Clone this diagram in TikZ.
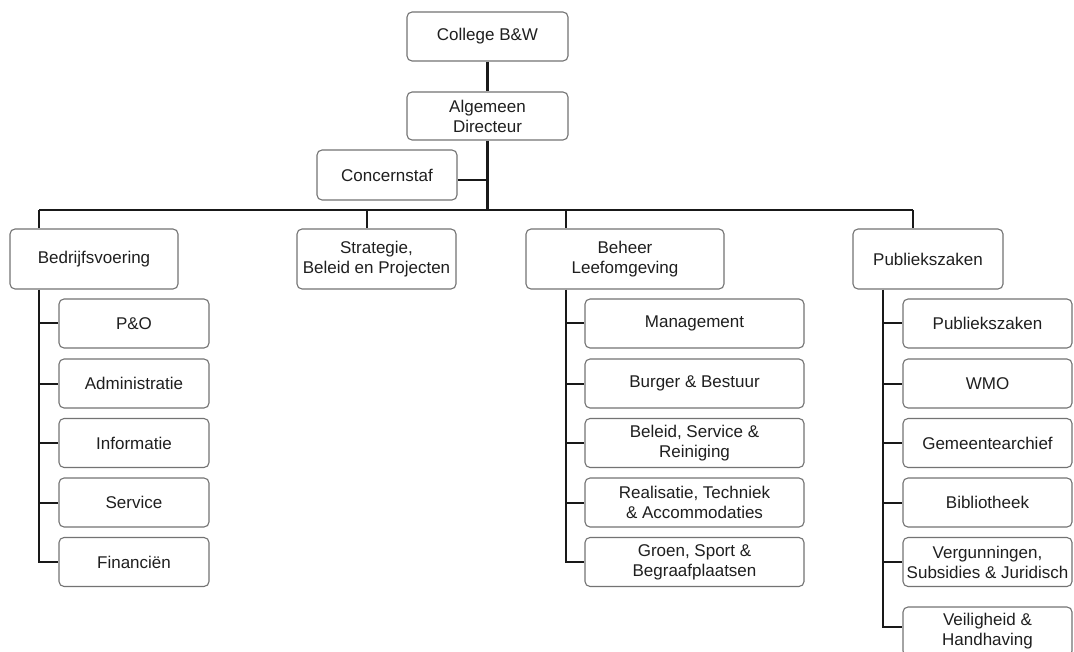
\documentclass[tikz,border=0pt]{standalone}
\usepackage{fontspec}
\setmainfont{Liberation Sans}
\begin{document}
\begin{tikzpicture}[x=1pt,y=-1pt,
  box/.style={draw=black!55, line width=1.1pt, rounded corners=5pt, fill=white,
    inner sep=0pt, align=center, text=black!88,
    font=\fontsize{17}{20}\selectfont},
  link/.style={line width=2pt, black!90},
  thick link/.style={line width=2.8pt, black!90}]
\useasboundingbox (0,0) rectangle (1074,652);
% top
\node[box, minimum width=161pt, minimum height=49pt] (college) at (487.5,36.5) {College B\&W};
\node[box, minimum width=161pt, minimum height=48pt] (alg) at (487.5,116) {Algemeen\\Directeur};
\node[box, minimum width=140pt, minimum height=50pt] (concern) at (387,175) {Concernstaf};
% level 2
\node[box, minimum width=168pt, minimum height=60pt] (bedr) at (94,259) {Bedrijfsvoering};
\node[box, minimum width=159pt, minimum height=60pt] (strat) at (376.5,259) {Strategie,\\Beleid en Projecten};
\node[box, minimum width=198pt, minimum height=60pt] (beheer) at (625,259) {Beheer\\Leefomgeving};
\node[box, minimum width=150pt, minimum height=60pt] (pub) at (928,259) {Publiekszaken};
% left children
\begin{scope}[every node/.style={box, minimum width=150pt, minimum height=49pt}]
\node (po) at (134,323.5) {P\&O};
\node (adm) at (134,383.5) {Administratie};
\node (inf) at (134,443) {Informatie};
\node (ser) at (134,502.5) {Service};
\node (fin) at (134,562) {Financiën};
\end{scope}
% middle children
\begin{scope}[every node/.style={box, minimum width=219pt, minimum height=49pt}]
\node (man) at (694.5,323.5) {Management};
\node (bur) at (694.5,383.5) {Burger \& Bestuur};
\node (bsr) at (694.5,443) {Beleid, Service \&\\Reiniging};
\node (rea) at (694.5,502.5) {Realisatie, Techniek\\\& Accommodaties};
\node (gro) at (694.5,562) {Groen, Sport \&\\Begraafplaatsen};
\end{scope}
% right children
\begin{scope}[every node/.style={box, minimum width=169pt, minimum height=49pt}]
\node (pz) at (987.5,323.5) {Publiekszaken};
\node (wmo) at (987.5,383.5) {WMO};
\node (gem) at (987.5,443) {Gemeentearchief};
\node (bib) at (987.5,502.5) {Bibliotheek};
\node (ver) at (987.5,562) {Vergunningen,\\Subsidies \& Juridisch};
\node (vei) at (987.5,631.5) {Veiligheid \&\\Handhaving};
\end{scope}
% coordinates
\coordinate (busL) at (39,210);
\coordinate (busR) at (913,210);
\coordinate (busS) at (367,210);
\coordinate (busB) at (566,210);
\coordinate (spR) at (883,0);
\coordinate (veiW) at ([yshift=4.5pt]vei.west);
\coordinate (conE) at ([yshift=-5pt]concern.east);
% connectors
\draw[thick link] (college) -- (alg);
\draw[thick link] (alg.south) -- (alg.south |- busL);
\draw[link] (conE) -- (conE -| alg.south);
\draw[link] (busL) -- (busR);
\draw[link] (busL) -- (busL |- bedr.north);
\draw[link] (busS) -- (busS |- strat.north);
\draw[link] (busB) -- (busB |- beheer.north);
\draw[link] (busR) -- (busR |- pub.north);
% left spine
\draw[link, line width=2.4pt] (busL |- bedr.south) -- (busL |- fin.west) -- (fin.west);
\foreach \n in {po,adm,inf,ser} \draw[link] (busL |- \n.west) -- (\n.west);
% middle spine
\draw[link, line width=2.4pt] (busB |- beheer.south) -- (busB |- gro.west) -- (gro.west);
\foreach \n in {man,bur,bsr,rea} \draw[link] (busB |- \n.west) -- (\n.west);
% right spine
\draw[link, line width=2.4pt] (spR |- pub.south) -- (spR |- veiW) -- (veiW);
\foreach \n in {pz,wmo,gem,bib,ver} \draw[link] (spR |- \n.west) -- (\n.west);
\end{tikzpicture}
\end{document}
